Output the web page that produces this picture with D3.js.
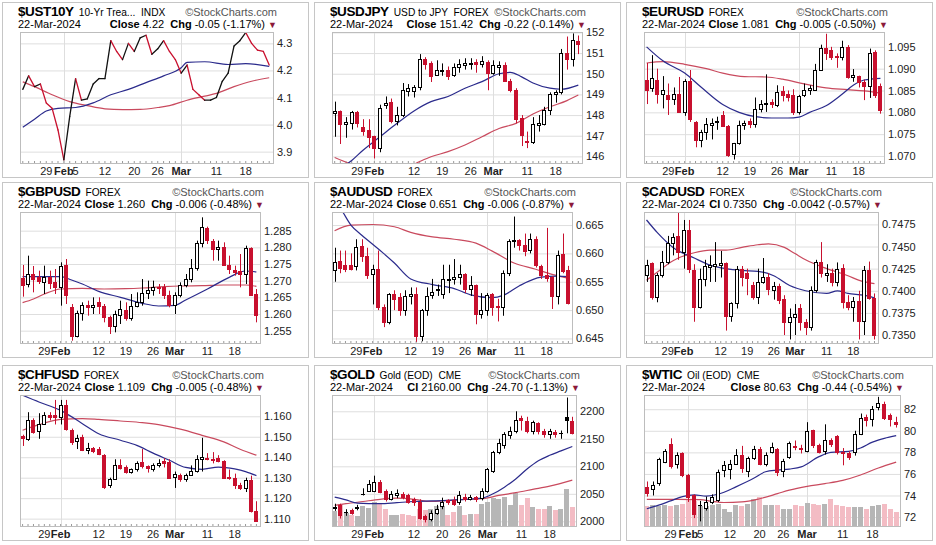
<!DOCTYPE html>
<html>
<head>
<meta charset="utf-8">
<script src="https://cdnjs.cloudflare.com/ajax/libs/d3/7.8.5/d3.min.js"></script>
<style>
  body { margin: 0; background: #fff; }
  svg { display: block; font-family: "Liberation Sans", Arial, sans-serif; }
</style>
</head>
<body>
<svg id="chart" width="936" height="545"></svg>
<script>
// ---- dates / ticks ----
const fxDates = ["01-23","01-24","01-25","01-26","01-29","01-30","01-31","02-01","02-02",
  "02-05","02-06","02-07","02-08","02-09","02-12","02-13","02-14","02-15","02-16",
  "02-19","02-20","02-21","02-22","02-23","02-26","02-27","02-28","02-29","03-01",
  "03-04","03-05","03-06","03-07","03-08","03-11","03-12","03-13","03-14","03-15",
  "03-18","03-19","03-20","03-21","03-22"];
const cmeDates = fxDates.filter(d => d !== "02-19"); // Presidents' Day closed
const fxTicks = [["01-29","29"],["02-01","Feb"],["02-12","12"],["02-19","19"],["02-26","26"],["03-01","Mar"],["03-11","11"],["03-18","18"]];
const cmeTicks = [["01-29","29"],["02-01","Feb"],["02-05","5"],["02-12","12"],["02-20","20"],["02-26","26"],["03-01","Mar"],["03-11","11"],["03-18","18"]];
const goldTicks = [["01-29","29"],["02-01","Feb"],["02-12","12"],["02-20","20"],["02-26","26"],["03-01","Mar"],["03-11","11"],["03-18","18"]];

// ---- $UST10Y (line) ----
const ust10yClose = [4.13,4.18,4.14,4.15,4.08,4.06,3.98,3.87,4.03,4.17,4.09,4.095,4.15,4.17,4.17,4.31,4.27,4.24,4.30,4.27,
  4.32,4.33,4.26,4.28,4.31,4.27,4.24,4.19,4.22,4.13,4.11,4.09,4.09,4.10,4.16,4.19,4.29,4.31,4.34,4.30,4.275,4.27,4.22];
const ust10yMa20 = [[0,3.99],[2,4.02],[4,4.05],[6,4.06],[9,4.063],[12,4.08],[15,4.11],[18,4.13],[21,4.155],[24,4.18],[27,4.21],[28,4.23],[31,4.232],[35,4.222],[38,4.225],[42,4.215]];
const ust10yMa50 = [[0,4.158],[2,4.14],[5,4.11],[8,4.085],[11,4.07],[14,4.058],[17,4.055],[20,4.056],[23,4.063],[25,4.07],[28,4.09],[31,4.105],[33,4.115],[36,4.14],[39,4.16],[42,4.173]];
const ust10yTicks = [3.9,4.0,4.1,4.2,4.3];

// ---- $USDJPY ----
const usdjpyOHLC = [[148.10,148.65,146.95,148.18],[148.21,148.22,146.60,147.56],[147.56,147.90,146.90,147.68],[147.63,148.20,147.30,148.13],
  [148.13,148.20,147.40,147.60],[147.44,147.80,147.00,147.24],[147.27,147.80,146.40,146.95],[146.98,147.00,145.90,146.39],
  [146.39,148.50,146.20,148.32],[148.47,148.90,148.30,148.60],[148.61,148.80,147.60,147.73],[147.73,148.40,147.50,148.00],
  [148.00,149.55,147.90,149.21],[149.18,149.50,148.90,149.29],[149.18,149.45,148.85,149.34],[149.34,150.95,149.20,150.69],
  [150.69,150.80,150.20,150.47],[150.50,150.60,149.60,149.89],[149.94,150.65,149.90,150.18],[150.15,150.50,149.90,150.20],
  [150.20,150.35,149.70,149.89],[149.94,150.50,149.85,150.34],[150.34,150.70,150.05,150.45],[150.42,150.75,150.20,150.50],
  [150.45,150.75,150.20,150.52],[150.55,150.70,150.05,150.47],[150.47,150.85,150.30,150.60],[150.58,150.65,149.20,150.02],
  [150.02,150.65,149.95,150.42],[150.34,150.60,149.90,150.44],[150.44,150.55,149.60,149.66],[149.66,149.75,149.10,149.21],
  [149.21,149.30,147.60,147.80],[147.84,148.00,146.50,147.03],[146.75,147.20,146.40,146.70],[146.70,147.90,146.60,147.56],
  [147.50,148.00,147.20,147.60],[147.56,148.40,147.50,148.24],[148.24,149.10,148.00,149.00],[149.00,149.20,148.60,149.10],
  [149.10,151.20,149.00,151.00],[151.00,151.80,150.20,150.70],[150.70,151.95,150.35,151.64],[151.60,151.85,150.95,151.42]];
const usdjpyMa20 = [[2,145.6],[3,145.8],[5,146.3],[8,146.95],[11,147.6],[14,148.2],[17,148.65],[20,148.9],[23,149.3],[26,149.62],[29,150.0],[31,150.07],[33,149.85],[35,149.55],[38,149.3],[40,149.25],[43,149.45]];
const usdjpyMa50 = [[0,145.95],[3,145.62],[8,145.3],[13,145.5],[15,145.75],[17,145.98],[20,146.23],[23,146.55],[26,146.95],[29,147.35],[32,147.6],[35,148.05],[38,148.4],[41,148.7],[43,148.97]];
const usdjpyTicks = [146,147,148,149,150,151,152];

// ---- $EURUSD ----
const eurusdOHLC = [[1.0875,1.0913,1.0819,1.0852],[1.0855,1.0931,1.0847,1.0878],[1.0874,1.0900,1.0820,1.0842],[1.0843,1.0883,1.0809,1.0852],
  [1.0839,1.0866,1.0794,1.0830],[1.0831,1.0857,1.0817,1.0841],[1.0842,1.0881,1.0799,1.0801],[1.0801,1.0876,1.0792,1.0872],
  [1.0872,1.0897,1.0778,1.0784],[1.0778,1.0780,1.0720,1.0737],[1.0737,1.0760,1.0720,1.0754],[1.0754,1.0787,1.0737,1.0773],
  [1.0771,1.0786,1.0738,1.0775],[1.0778,1.0790,1.0760,1.0781],[1.0795,1.0803,1.0767,1.0769],[1.0769,1.0771,1.0698,1.0702],
  [1.0705,1.0730,1.0692,1.0729],[1.0729,1.0781,1.0726,1.0771],[1.0772,1.0781,1.0760,1.0775],[1.0781,1.0786,1.0764,1.0773],
  [1.0773,1.0834,1.0765,1.0807],[1.0807,1.0828,1.0800,1.0818],[1.0818,1.0887,1.0801,1.0822],[1.0823,1.0830,1.0810,1.0818],
  [1.0817,1.0862,1.0812,1.0847],[1.0849,1.0860,1.0825,1.0839],[1.0842,1.0850,1.0825,1.0836],[1.0839,1.0853,1.0794,1.0801],
  [1.0801,1.0840,1.0795,1.0837],[1.0839,1.0866,1.0835,1.0852],[1.0851,1.0862,1.0840,1.0855],[1.0852,1.0911,1.0850,1.0898],
  [1.0898,1.0955,1.0895,1.0948],[1.0948,1.0980,1.0920,1.0937],[1.0942,1.0950,1.0920,1.0927],[1.0929,1.0935,1.0902,1.0926],
  [1.0927,1.0964,1.0919,1.0950],[1.0950,1.0954,1.0877,1.0880],[1.0881,1.0899,1.0870,1.0885],[1.0883,1.0884,1.0857,1.0870],
  [1.0870,1.0875,1.0828,1.0860],[1.0860,1.0946,1.0833,1.0936],[1.0938,1.0942,1.0833,1.0839],[1.0860,1.0866,1.0797,1.0805]];
const eurusdMa20 = [[0,1.0950],[3,1.0918],[7,1.0890],[10,1.0858],[14,1.0818],[17,1.0800],[20,1.0790],[23,1.0787],[26,1.0787],[28,1.0789],[30,1.0800],[33,1.0815],[36,1.0842],[38,1.0862],[40,1.0874],[43,1.0878]];
const eurusdMa50 = [[0,1.0913],[3,1.0916],[7,1.0910],[11,1.0900],[14,1.0890],[18,1.0882],[22,1.0881],[25,1.0876],[29,1.0865],[33,1.0856],[37,1.0852],[40,1.0849],[43,1.0844]];
const eurusdTicks = [1.070,1.075,1.080,1.085,1.090,1.095];

// ---- $GBPUSD ----
const gbpusdOHLC = [[1.2707,1.2747,1.2652,1.2687],[1.2689,1.2775,1.2680,1.2719],[1.2719,1.2744,1.2665,1.2705],[1.2712,1.2730,1.2690,1.2699],
  [1.2697,1.2745,1.2660,1.2710],[1.2712,1.2730,1.2675,1.2694],[1.2697,1.2735,1.2660,1.2680],[1.2680,1.2755,1.2625,1.2744],
  [1.2747,1.2765,1.2630,1.2657],[1.2622,1.2630,1.2520,1.2534],[1.2534,1.2610,1.2530,1.2602],[1.2602,1.2635,1.2580,1.2627],
  [1.2628,1.2640,1.2595,1.2620],[1.2620,1.2650,1.2600,1.2627],[1.2635,1.2650,1.2600,1.2624],[1.2624,1.2630,1.2575,1.2590],
  [1.2592,1.2595,1.2540,1.2564],[1.2564,1.2610,1.2545,1.2600],[1.2597,1.2640,1.2570,1.2614],[1.2612,1.2635,1.2580,1.2587],
  [1.2587,1.2660,1.2580,1.2624],[1.2623,1.2665,1.2620,1.2637],[1.2637,1.2705,1.2625,1.2662],[1.2662,1.2700,1.2645,1.2672],
  [1.2672,1.2700,1.2655,1.2682],[1.2682,1.2690,1.2660,1.2677],[1.2680,1.2690,1.2645,1.2657],[1.2657,1.2670,1.2620,1.2627],
  [1.2626,1.2665,1.2600,1.2656],[1.2657,1.2695,1.2650,1.2687],[1.2687,1.2720,1.2680,1.2704],[1.2704,1.2765,1.2695,1.2737],
  [1.2737,1.2820,1.2730,1.2814],[1.2814,1.2890,1.2800,1.2860],[1.2857,1.2862,1.2810,1.2822],[1.2820,1.2825,1.2760,1.2794],
  [1.2794,1.2820,1.2760,1.2800],[1.2802,1.2815,1.2745,1.2747],[1.2747,1.2775,1.2720,1.2734],[1.2732,1.2745,1.2715,1.2727],
  [1.2730,1.2780,1.2680,1.2720],[1.2720,1.2805,1.2690,1.2797],[1.2799,1.2800,1.2655,1.2657],[1.2660,1.2675,1.2575,1.2597]];
const gbpusdMa20 = [[0,1.2712],[3,1.2712],[7,1.2712],[9,1.2702],[11,1.2690],[14,1.2668],[18,1.2650],[22,1.2632],[25,1.2624],[28,1.2626],[30,1.2642],[34,1.2675],[38,1.2710],[41,1.2729],[43,1.2726]];
const gbpusdMa50 = [[0,1.2634],[2,1.2645],[4,1.2660],[7,1.2675],[11,1.2677],[15,1.2675],[19,1.2676],[22,1.2678],[26,1.2682],[29,1.2684],[33,1.2685],[37,1.2687],[41,1.2687],[43,1.2683]];
const gbpusdTicks = [1.255,1.260,1.265,1.270,1.275,1.280,1.285];

// ---- $AUDUSD ----
const audusdOHLC = [[0.6571,0.6610,0.6550,0.6585],[0.6586,0.6605,0.6565,0.6575],[0.6579,0.6605,0.6567,0.6573],[0.6580,0.6600,0.6570,0.6572],
  [0.6578,0.6625,0.6570,0.6612],[0.6613,0.6625,0.6585,0.6595],[0.6595,0.6610,0.6555,0.6562],[0.6563,0.6580,0.6510,0.6573],
  [0.6573,0.6605,0.6500,0.6506],[0.6506,0.6510,0.6470,0.6479],[0.6479,0.6530,0.6475,0.6528],[0.6528,0.6535,0.6500,0.6519],
  [0.6523,0.6530,0.6490,0.6500],[0.6500,0.6535,0.6490,0.6525],[0.6524,0.6540,0.6510,0.6529],[0.6529,0.6540,0.6444,0.6454],
  [0.6454,0.6502,0.6445,0.6500],[0.6500,0.6540,0.6490,0.6525],[0.6526,0.6555,0.6520,0.6532],[0.6538,0.6545,0.6525,0.6535],
  [0.6529,0.6580,0.6520,0.6554],[0.6553,0.6580,0.6530,0.6555],[0.6555,0.6590,0.6545,0.6559],[0.6558,0.6580,0.6545,0.6563],
  [0.6563,0.6565,0.6530,0.6538],[0.6538,0.6560,0.6525,0.6544],[0.6544,0.6545,0.6475,0.6494],[0.6494,0.6530,0.6485,0.6500],
  [0.6500,0.6530,0.6490,0.6526],[0.6528,0.6530,0.6490,0.6506],[0.6507,0.6520,0.6480,0.6505],[0.6505,0.6570,0.6490,0.6566],
  [0.6566,0.6625,0.6560,0.6621],[0.6621,0.6665,0.6610,0.6623],[0.6624,0.6625,0.6605,0.6615],[0.6615,0.6635,0.6595,0.6605],
  [0.6606,0.6635,0.6600,0.6626],[0.6626,0.6630,0.6575,0.6579],[0.6578,0.6580,0.6555,0.6562],[0.6562,0.6645,0.6550,0.6556],
  [0.6559,0.6560,0.6502,0.6524],[0.6524,0.6605,0.6510,0.6597],[0.6599,0.6635,0.6565,0.6569],[0.6571,0.6578,0.6510,0.6513]];
const audusdMa20 = [[0,0.6690],[1,0.6680],[3,0.6650],[5,0.6632],[7,0.6616],[9,0.6600],[11,0.6583],[14,0.6555],[18,0.6545],[22,0.6538],[25,0.6527],[29,0.6522],[31,0.6526],[34,0.6543],[38,0.6558],[41,0.6560],[43,0.6559]];
const audusdMa50 = [[0,0.6640],[3,0.6650],[7,0.6651],[11,0.6647],[14,0.6637],[18,0.6629],[22,0.6625],[26,0.6618],[29,0.6604],[33,0.6583],[37,0.6572],[40,0.6563],[43,0.6556]];
const audusdTicks = [0.645,0.650,0.655,0.660,0.665];

// ---- $CADUSD ----
const cadusdOHLC = [[0.7418,0.7435,0.7410,0.7429],[0.7431,0.7432,0.7390,0.7393],[0.7393,0.7420,0.7387,0.7418],[0.7418,0.7445,0.7415,0.7432],
  [0.7432,0.7462,0.7430,0.7454],[0.7454,0.7465,0.7440,0.7461],[0.7462,0.7490,0.7435,0.7444],[0.7444,0.7480,0.7425,0.7469],
  [0.7469,0.7480,0.7420,0.7425],[0.7423,0.7430,0.7365,0.7382],[0.7382,0.7425,0.7380,0.7413],[0.7413,0.7435,0.7405,0.7428],
  [0.7427,0.7440,0.7410,0.7429],[0.7428,0.7455,0.7410,0.7430],[0.7429,0.7445,0.7415,0.7431],[0.7431,0.7432,0.7355,0.7371],
  [0.7371,0.7387,0.7365,0.7386],[0.7386,0.7428,0.7380,0.7425],[0.7425,0.7428,0.7405,0.7416],[0.7420,0.7425,0.7395,0.7414],
  [0.7406,0.7410,0.7390,0.7393],[0.7393,0.7425,0.7385,0.7410],[0.7410,0.7437,0.7408,0.7416],[0.7416,0.7420,0.7395,0.7402],
  [0.7401,0.7410,0.7390,0.7405],[0.7405,0.7408,0.7385,0.7390],[0.7391,0.7395,0.7350,0.7365],[0.7365,0.7380,0.7345,0.7370],
  [0.7370,0.7385,0.7350,0.7374],[0.7380,0.7385,0.7355,0.7365],[0.7365,0.7368,0.7350,0.7359],[0.7359,0.7405,0.7355,0.7401],
  [0.7401,0.7435,0.7398,0.7433],[0.7433,0.7455,0.7415,0.7420],[0.7418,0.7430,0.7410,0.7420],[0.7420,0.7425,0.7405,0.7410],
  [0.7410,0.7432,0.7405,0.7425],[0.7426,0.7430,0.7380,0.7387],[0.7387,0.7395,0.7378,0.7382],[0.7382,0.7393,0.7365,0.7388],
  [0.7388,0.7400,0.7345,0.7366],[0.7366,0.7428,0.7350,0.7423],[0.7423,0.7433,0.7390,0.7392],[0.7392,0.7397,0.7345,0.7350]];
const cadusdMa20 = [[0,0.7480],[2,0.7466],[5,0.7449],[9,0.7437],[12,0.7429],[15,0.7425],[18,0.7423],[21,0.7422],[24,0.7417],[27,0.7406],[30,0.7400],[34,0.7397],[36,0.7400],[38,0.7397],[41,0.7395],[43,0.7392]];
const cadusdMa50 = [[0,0.7412],[2,0.7421],[5,0.7434],[9,0.7443],[12,0.7446],[15,0.7446],[18,0.7449],[21,0.7452],[23,0.7453],[26,0.7449],[28,0.7442],[30,0.7435],[34,0.7425],[38,0.7417],[40,0.7412],[43,0.7408]];
const cadusdTicks = [0.7350,0.7375,0.7400,0.7425,0.7450,0.7475];

// ---- $CHFUSD ----
const chfusdOHLC = [[1.1504,1.1510,1.1455,1.1494],[1.1491,1.1620,1.1480,1.1581],[1.1581,1.1590,1.1515,1.1524],[1.1527,1.1615,1.1490,1.1564],
  [1.1564,1.1620,1.1560,1.1608],[1.1605,1.1620,1.1580,1.1597],[1.1608,1.1680,1.1560,1.1595],[1.1597,1.1680,1.1560,1.1657],
  [1.1657,1.1680,1.1530,1.1540],[1.1532,1.1540,1.1460,1.1475],[1.1478,1.1510,1.1440,1.1494],[1.1499,1.1510,1.1430,1.1434],
  [1.1434,1.1470,1.1415,1.1445],[1.1445,1.1450,1.1420,1.1429],[1.1439,1.1450,1.1410,1.1418],[1.1413,1.1415,1.1245,1.1255],
  [1.1263,1.1300,1.1250,1.1292],[1.1292,1.1390,1.1290,1.1361],[1.1361,1.1390,1.1340,1.1348],[1.1352,1.1360,1.1320,1.1328],
  [1.1328,1.1345,1.1320,1.1341],[1.1341,1.1380,1.1330,1.1374],[1.1377,1.1440,1.1345,1.1357],[1.1357,1.1360,1.1325,1.1348],
  [1.1344,1.1370,1.1330,1.1364],[1.1364,1.1390,1.1350,1.1374],[1.1380,1.1395,1.1350,1.1372],[1.1377,1.1390,1.1295,1.1299],
  [1.1304,1.1330,1.1250,1.1320],[1.1315,1.1320,1.1280,1.1292],[1.1292,1.1320,1.1280,1.1312],[1.1312,1.1360,1.1310,1.1331],
  [1.1331,1.1410,1.1325,1.1393],[1.1393,1.1495,1.1330,1.1401],[1.1396,1.1420,1.1385,1.1390],[1.1393,1.1425,1.1370,1.1385],
  [1.1396,1.1410,1.1375,1.1380],[1.1380,1.1385,1.1295,1.1299],[1.1304,1.1340,1.1290,1.1297],[1.1297,1.1320,1.1245,1.1266],
  [1.1266,1.1275,1.1240,1.1250],[1.1250,1.1300,1.1230,1.1287],[1.1287,1.1310,1.1130,1.1136],[1.1136,1.1185,1.1085,1.1090]];
const chfusdMa20 = [[0,1.1703],[3,1.1670],[7,1.1629],[11,1.1564],[14,1.1515],[18,1.1483],[21,1.1458],[24,1.1420],[27,1.1385],[30,1.1350],[33,1.1341],[36,1.1352],[39,1.1343],[41,1.1330],[43,1.1310]];
const chfusdMa50 = [[0,1.1532],[3,1.1559],[7,1.1585],[11,1.1589],[14,1.1585],[18,1.1577],[22,1.1569],[25,1.1559],[29,1.1537],[33,1.1507],[37,1.1475],[40,1.1439],[43,1.1410]];
const chfusdTicks = [1.110,1.120,1.130,1.140,1.150,1.160];

// ---- $GOLD ----
const goldOHLC = [[2025,2032,2019,2026],[2029,2032,2005,2012],[2017,2022,2010,2017],[2020,2023,2012,2016],[2025,2030,2020,2026],
  [2049,2060,2047,2050],[2056,2075,2054,2067],[2056,2083,2053,2071],[2071,2075,2051,2053],[2056,2058,2036,2041],
  [2041,2055,2038,2050],[2048,2058,2042,2052],[2050,2053,2040,2044],[2048,2050,2032,2036],[2040,2043,2028,2035],
  [2035,2040,2003,2006],[2010,2012,1998,2005],[2005,2020,2000,2016],[2016,2030,2012,2023],[2028,2043,2022,2036],
  [2038,2040,2030,2035],[2038,2045,2028,2032],[2035,2055,2030,2048],[2044,2050,2036,2040],[2040,2048,2038,2044],
  [2044,2046,2035,2041],[2042,2060,2038,2055],[2055,2097,2052,2095],[2091,2128,2088,2126],[2126,2150,2122,2143],
  [2138,2162,2132,2159],[2157,2172,2150,2165],[2165,2200,2160,2185],[2187,2192,2165,2184],[2182,2190,2160,2165],
  [2164,2183,2158,2181],[2178,2180,2158,2164],[2165,2168,2152,2159],[2159,2168,2150,2164],[2162,2166,2152,2159],
  [2160,2165,2150,2161],[2190,2225,2160,2184.7],[2182,2190,2158,2160]];
const goldVolume = [88,128,80,68,60,120,108,140,128,104,68,68,74,64,60,104,94,104,120,120,64,84,120,68,74,74,
  128,144,164,160,174,124,194,124,168,114,104,104,120,94,104,220,114];
const goldMa20 = [[0,2044],[2,2039],[4,2033],[8,2032],[11,2034],[14,2036],[17,2037],[20,2038],[23,2040],[26,2042],[28,2050],[30,2062],[32,2077],[34,2095],[36,2110],[38,2120],[40,2128],[42,2136]];
const goldMa50 = [[0,2029],[2,2032],[5,2036],[8,2040],[11,2042],[14,2040],[17,2036],[20,2038],[23,2040],[26,2041],[29,2047],[32,2052],[35,2058],[38,2064],[42,2075]];
const goldTicksY = [2000,2050,2100,2150,2200];

// ---- $WTIC ----
const wticOHLC = [[74.79,75.30,73.90,74.26],[74.63,75.30,74.00,75.00],[75.20,77.50,74.90,77.36],[77.10,78.30,77.00,78.10],
  [78.80,79.30,76.50,76.74],[76.95,78.00,76.50,77.73],[77.90,78.00,75.70,75.87],[75.87,76.00,73.40,73.86],
  [74.00,74.10,71.90,72.30],[73.10,73.50,71.60,73.10],[72.80,73.90,72.60,73.40],[73.40,74.10,73.20,73.86],
  [73.55,76.40,73.40,76.18],[76.34,77.20,75.70,76.80],[76.50,77.30,75.50,76.95],[76.95,78.30,76.90,77.79],
  [77.73,78.60,76.10,76.55],[76.24,77.60,75.70,77.48],[77.48,78.60,77.30,78.35],[78.35,78.50,76.80,76.95],
  [76.95,78.00,76.70,77.79],[78.04,78.90,77.90,78.50],[78.28,78.40,75.80,76.18],[76.24,77.40,75.70,77.17],
  [77.57,79.00,77.40,78.87],[78.60,79.10,78.20,78.50],[78.45,78.70,77.90,78.30],[78.10,80.80,78.00,79.96],
  [80.05,80.10,78.40,78.65],[78.65,78.80,77.90,78.04],[78.10,80.60,77.80,79.13],[79.12,79.30,78.50,78.81],
  [79.52,79.60,77.80,78.00],[78.00,78.40,76.80,77.90],[77.90,78.10,77.30,77.57],[78.04,80.00,77.70,79.74],
  [79.70,81.60,79.60,81.23],[81.30,81.50,80.40,81.04],[81.08,82.30,80.40,82.06],[82.20,83.15,81.90,82.60],
  [82.50,82.70,81.00,81.20],[81.50,81.60,80.40,81.07],[80.82,81.30,80.30,80.63]];
const wticVolume = [300,310,300,310,300,310,335,410,370,300,300,310,335,260,210,310,300,335,410,435,320,310,
  310,260,260,310,300,350,335,320,335,410,310,300,285,285,285,260,300,310,335,260,210];
const wticMa20 = [[0,72.77],[2,73.1],[4,73.5],[6,73.9],[8,74.05],[10,73.95],[13,74.3],[15,74.8],[18,75.6],[20,76.2],[22,76.35],[24,76.45],[26,76.65],[29,77.6],[31,78.0],[34,78.1],[36,78.4],[38,78.95],[40,79.3],[42,79.55]];
const wticMa50 = [[0,73.64],[5,73.64],[9,73.62],[11,73.45],[13,73.35],[16,73.4],[19,73.7],[22,74.17],[24,74.5],[27,74.85],[30,75.1],[33,75.4],[36,75.9],[39,76.55],[42,77.1]];
const wticTicksY = [72,74,76,78,80,82];

const panels = [
  { sym: "$UST10Y", desc: "10-Yr Trea...  INDX", clLbl: "Close", cl: "4.22", chg: "-0.05 (-1.17%)",
    dates: cmeDates, xTicks: cmeTicks, line: ust10yClose, ma20: ust10yMa20, ma50: ust10yMa50,
    domain: [3.858, 4.342], yTicks: ust10yTicks, fmt: ".1f" },
  { sym: "$USDJPY", desc: "USD to JPY  FOREX", clLbl: "Close", cl: "151.42", chg: "-0.22 (-0.14%)",
    dates: fxDates, xTicks: fxTicks, ohlc: usdjpyOHLC, prev: 148.05, ma20: usdjpyMa20, ma50: usdjpyMa50,
    domain: [145.68, 152.02], yTicks: usdjpyTicks, fmt: "d" },
  { sym: "$EURUSD", desc: "FOREX", clLbl: "Close", cl: "1.081", chg: "-0.005 (-0.50%)",
    dates: fxDates, xTicks: fxTicks, ohlc: eurusdOHLC, prev: 1.0870, ma20: eurusdMa20, ma50: eurusdMa50,
    domain: [1.0684, 1.0984], yTicks: eurusdTicks, fmt: ".3f" },
  { sym: "$GBPUSD", desc: "FOREX", clLbl: "Close", cl: "1.260", chg: "-0.006 (-0.48%)",
    dates: fxDates, xTicks: fxTicks, ohlc: gbpusdOHLC, prev: 1.2700, ma20: gbpusdMa20, ma50: gbpusdMa50,
    domain: [1.2513, 1.2906], yTicks: gbpusdTicks, fmt: ".3f" },
  { sym: "$AUDUSD", desc: "FOREX", clLbl: "Close", cl: "0.651", chg: "-0.006 (-0.87%)",
    dates: fxDates, xTicks: fxTicks, ohlc: audusdOHLC, prev: 0.6570, ma20: audusdMa20, ma50: audusdMa50,
    domain: [0.6442, 0.6673], yTicks: audusdTicks, fmt: ".3f" },
  { sym: "$CADUSD", desc: "FOREX", clLbl: "Cl", cl: "0.7350", chg: "-0.0042 (-0.57%)",
    dates: fxDates, xTicks: fxTicks, ohlc: cadusdOHLC, prev: 0.7415, ma20: cadusdMa20, ma50: cadusdMa50,
    domain: [0.7341, 0.7489], yTicks: cadusdTicks, fmt: ".4f" },
  { sym: "$CHFUSD", desc: "FOREX", clLbl: "Close", cl: "1.109", chg: "-0.005 (-0.48%)",
    dates: fxDates, xTicks: fxTicks, ohlc: chfusdOHLC, prev: 1.1500, ma20: chfusdMa20, ma50: chfusdMa50,
    domain: [1.1064, 1.1704], yTicks: chfusdTicks, fmt: ".3f" },
  { sym: "$GOLD", desc: "Gold (EOD)  CME", clLbl: "Cl", cl: "2160.00", chg: "-24.70 (-1.13%)",
    dates: cmeDates, xTicks: goldTicks, ohlc: goldOHLC, prev: 2020, vol: goldVolume, volH: 37,
    ma20: goldMa20, ma50: goldMa50, domain: [1991.5, 2229.6], yTicks: goldTicksY, fmt: "d" },
  { sym: "$WTIC", desc: "Oil (EOD)  CME", clLbl: "Close", cl: "80.63", chg: "-0.44 (-0.54%)",
    dates: cmeDates, xTicks: cmeTicks, ohlc: wticOHLC, prev: 74.9, vol: wticVolume, volH: 29,
    ma20: wticMa20, ma50: wticMa50, domain: [71.17, 83.32], yTicks: wticTicksY, fmt: "d" }
];

const RED = "#c8102e", BLUE_MA = "#2b2b8c", RED_MA = "#c94a5e";
const W = 307, H = 176, rowY = [2, 182, 365];
const plotTop = 30, plotBottom = 161, plotLeft = 18, labelEnd = 290;
const svg = d3.select("#chart");

panels.forEach((p, k) => {
  const x0 = 2 + (k % 3) * 312, y0 = rowY[Math.floor(k / 3)];
  const g = svg.append("g").attr("transform", `translate(${x0},${y0})`);
  g.append("rect").attr("x", 0.5).attr("y", 0.5).attr("width", W - 1).attr("height", H - 1)
    .attr("fill", "#fff").attr("stroke", "#c6c6c6");

  // measure y labels to find plot right edge
  const fmt = d3.format(p.fmt);
  const probe = g.append("text").attr("font-size", 11);
  const maxW = d3.max(p.yTicks, t => probe.text(fmt(t)).node().getComputedTextLength());
  probe.remove();
  const plotRight = Math.round(labelEnd - maxW - 3);

  const y = d3.scaleLinear().domain(p.domain).range([plotBottom, plotTop]);
  const x = d3.scaleBand().domain(p.dates).range([plotLeft, plotRight - 2]).paddingInner(0.25).paddingOuter(0.1);
  const cx = d => x(d) + x.bandwidth() / 2;

  // header
  const title = g.append("text").attr("x", 16).attr("y", 14).attr("font-size", 13.5)
    .attr("font-weight", "bold").attr("letter-spacing", -0.4).text(p.sym);
  const tw = title.node().getComputedTextLength();
  g.append("text").attr("x", 16 + tw + 5).attr("y", 14).attr("font-size", 10.2)
    .style("white-space", "pre").text(p.desc);
  g.append("text").attr("x", plotRight + 3).attr("y", 14).attr("font-size", 11).attr("fill", "#555")
    .attr("text-anchor", "end").text("\u00a9StockCharts.com");
  g.append("text").attr("x", 16).attr("y", 26).attr("font-size", 11).text("22-Mar-2024");
  const info = g.append("text").attr("x", plotRight + 3).attr("y", 26).attr("font-size", 11)
    .attr("text-anchor", "end").style("white-space", "pre");
  info.append("tspan").attr("font-weight", "bold").text(p.clLbl + " ");
  info.append("tspan").text(p.cl + "  ");
  info.append("tspan").attr("font-weight", "bold").text("Chg ");
  info.append("tspan").text(p.chg + " ");
  info.append("tspan").attr("fill", "#8b1a3a").attr("font-size", 9).text("\u25bc");

  // grid
  g.append("g").attr("transform", `translate(${plotLeft},0)`)
    .call(d3.axisLeft(y).tickValues(p.yTicks).tickSize(-(plotRight - plotLeft)).tickFormat(""))
    .call(a => a.select(".domain").remove())
    .call(a => a.selectAll("line").attr("stroke", "#dedede"));
  const monthStarts = p.dates.filter((d, i) => i > 0 && d.slice(0, 2) !== p.dates[i - 1].slice(0, 2));
  g.append("g").selectAll("line").data(monthStarts).join("line")
    .attr("x1", d => Math.round(cx(d)) + 0.5).attr("x2", d => Math.round(cx(d)) + 0.5)
    .attr("y1", plotTop).attr("y2", plotBottom).attr("stroke", "#dedede");

  // y axis labels
  g.append("g").attr("transform", `translate(${plotRight},0)`)
    .call(d3.axisRight(y).tickValues(p.yTicks).tickFormat(fmt).tickSize(0).tickPadding(3))
    .call(a => a.select(".domain").remove())
    .call(a => a.selectAll("text").attr("font-size", 11).attr("font-family", null).attr("fill", "#222"));

  // x axis labels
  const tickMap = new Map(p.xTicks);
  g.append("g").attr("transform", `translate(0,${plotBottom})`)
    .call(d3.axisBottom(x).tickValues(p.xTicks.map(t => t[0])).tickFormat(d => tickMap.get(d)).tickSize(0).tickPadding(4))
    .call(a => a.select(".domain").remove())
    .call(a => a.selectAll("text").attr("font-size", 11).attr("font-family", null).attr("fill", "#222")
      .attr("font-weight", d => /[A-Za-z]/.test(tickMap.get(d)) ? "bold" : null));
  // small day ticks on the bottom frame
  g.append("g").attr("transform", `translate(0,${plotBottom})`)
    .call(d3.axisBottom(x).tickSizeInner(-2).tickSizeOuter(0).tickFormat(""))
    .call(a => a.select(".domain").remove())
    .call(a => a.selectAll("line").attr("stroke", "#999"));

  // plot frame
  g.append("rect").attr("x", plotLeft + 0.5).attr("y", plotTop + 0.5).attr("width", plotRight - plotLeft - 1)
    .attr("height", plotBottom - plotTop).attr("fill", "none").attr("stroke", "#bdbdbd");

  const clipId = "clip" + k;
  g.append("clipPath").attr("id", clipId).append("rect")
    .attr("x", plotLeft + 1).attr("y", plotTop + 1).attr("width", plotRight - plotLeft - 2).attr("height", plotBottom - plotTop - 1);
  const plot = g.append("g").attr("clip-path", `url(#${clipId})`);

  const closes = p.ohlc ? p.ohlc.map(c => c[3]) : p.line;
  const prevClose = i => i === 0 ? (p.prev ?? closes[0]) : closes[i - 1];

  // volume
  if (p.vol) {
    const v = d3.scaleLinear().domain([0, d3.max(p.vol)]).range([plotBottom, plotBottom - p.volH]);
    const vw = Math.round(x.step()) - 1;
    plot.append("g").selectAll("rect").data(p.vol).join("rect")
      .attr("x", (d, i) => Math.round(cx(p.dates[i]) - vw / 2))
      .attr("width", vw)
      .attr("y", d => Math.round(v(d)))
      .attr("height", d => plotBottom - Math.round(v(d)))
      .attr("fill", (d, i) => closes[i] >= prevClose(i) ? "#b6b6b6" : "#f3bcc4");
  }

  // moving averages
  const maLine = d3.line().x(d => cx(p.dates[d[0]])).y(d => y(d[1])).curve(d3.curveMonotoneX);
  plot.append("path").datum(p.ma50).attr("d", maLine).attr("fill", "none")
    .attr("stroke", RED_MA).attr("stroke-width", 1.2);
  plot.append("path").datum(p.ma20).attr("d", maLine).attr("fill", "none")
    .attr("stroke", BLUE_MA).attr("stroke-width", 1.2);

  if (p.line) {
    // close-only line, black on up moves and red on down moves
    const segs = p.line.slice(1).map((v, i) => ({ a: i, b: i + 1, up: v >= p.line[i] }));
    plot.append("g").selectAll("line").data(segs).join("line")
      .attr("x1", d => cx(p.dates[d.a])).attr("y1", d => y(p.line[d.a]))
      .attr("x2", d => cx(p.dates[d.b])).attr("y2", d => y(p.line[d.b]))
      .attr("stroke", d => d.up ? "#111" : RED).attr("stroke-width", 1.3).attr("stroke-linecap", "round");
    return;
  }

  // candles
  const bw = Math.max(3, Math.round(x.bandwidth()));
  const candles = p.ohlc.map((c, i) => {
    const up = c[3] >= prevClose(i);
    const color = up ? "#000" : RED;
    return { d: p.dates[i], o: c[0], h: c[1], l: c[2], c: c[3], color, hollow: c[3] > c[0] };
  });
  const cg = plot.append("g");
  const bx = d => Math.round(cx(d.d) - bw / 2);
  cg.selectAll("line").data(candles).join("line")
    .attr("x1", d => bx(d) + Math.floor(bw / 2) + 0.5).attr("x2", d => bx(d) + Math.floor(bw / 2) + 0.5)
    .attr("y1", d => y(d.h)).attr("y2", d => y(d.l)).attr("stroke", d => d.color);
  cg.selectAll("rect").data(candles).join("rect")
    .attr("x", d => bx(d) + 0.5).attr("width", bw - 1)
    .attr("y", d => Math.round(y(Math.max(d.o, d.c))) + 0.5)
    .attr("height", d => Math.max(0.01, Math.round(y(Math.min(d.o, d.c))) - Math.round(y(Math.max(d.o, d.c)))))
    .attr("fill", d => d.hollow ? "#fff" : d.color).attr("stroke", d => d.color);
});
</script>
</body>
</html>
